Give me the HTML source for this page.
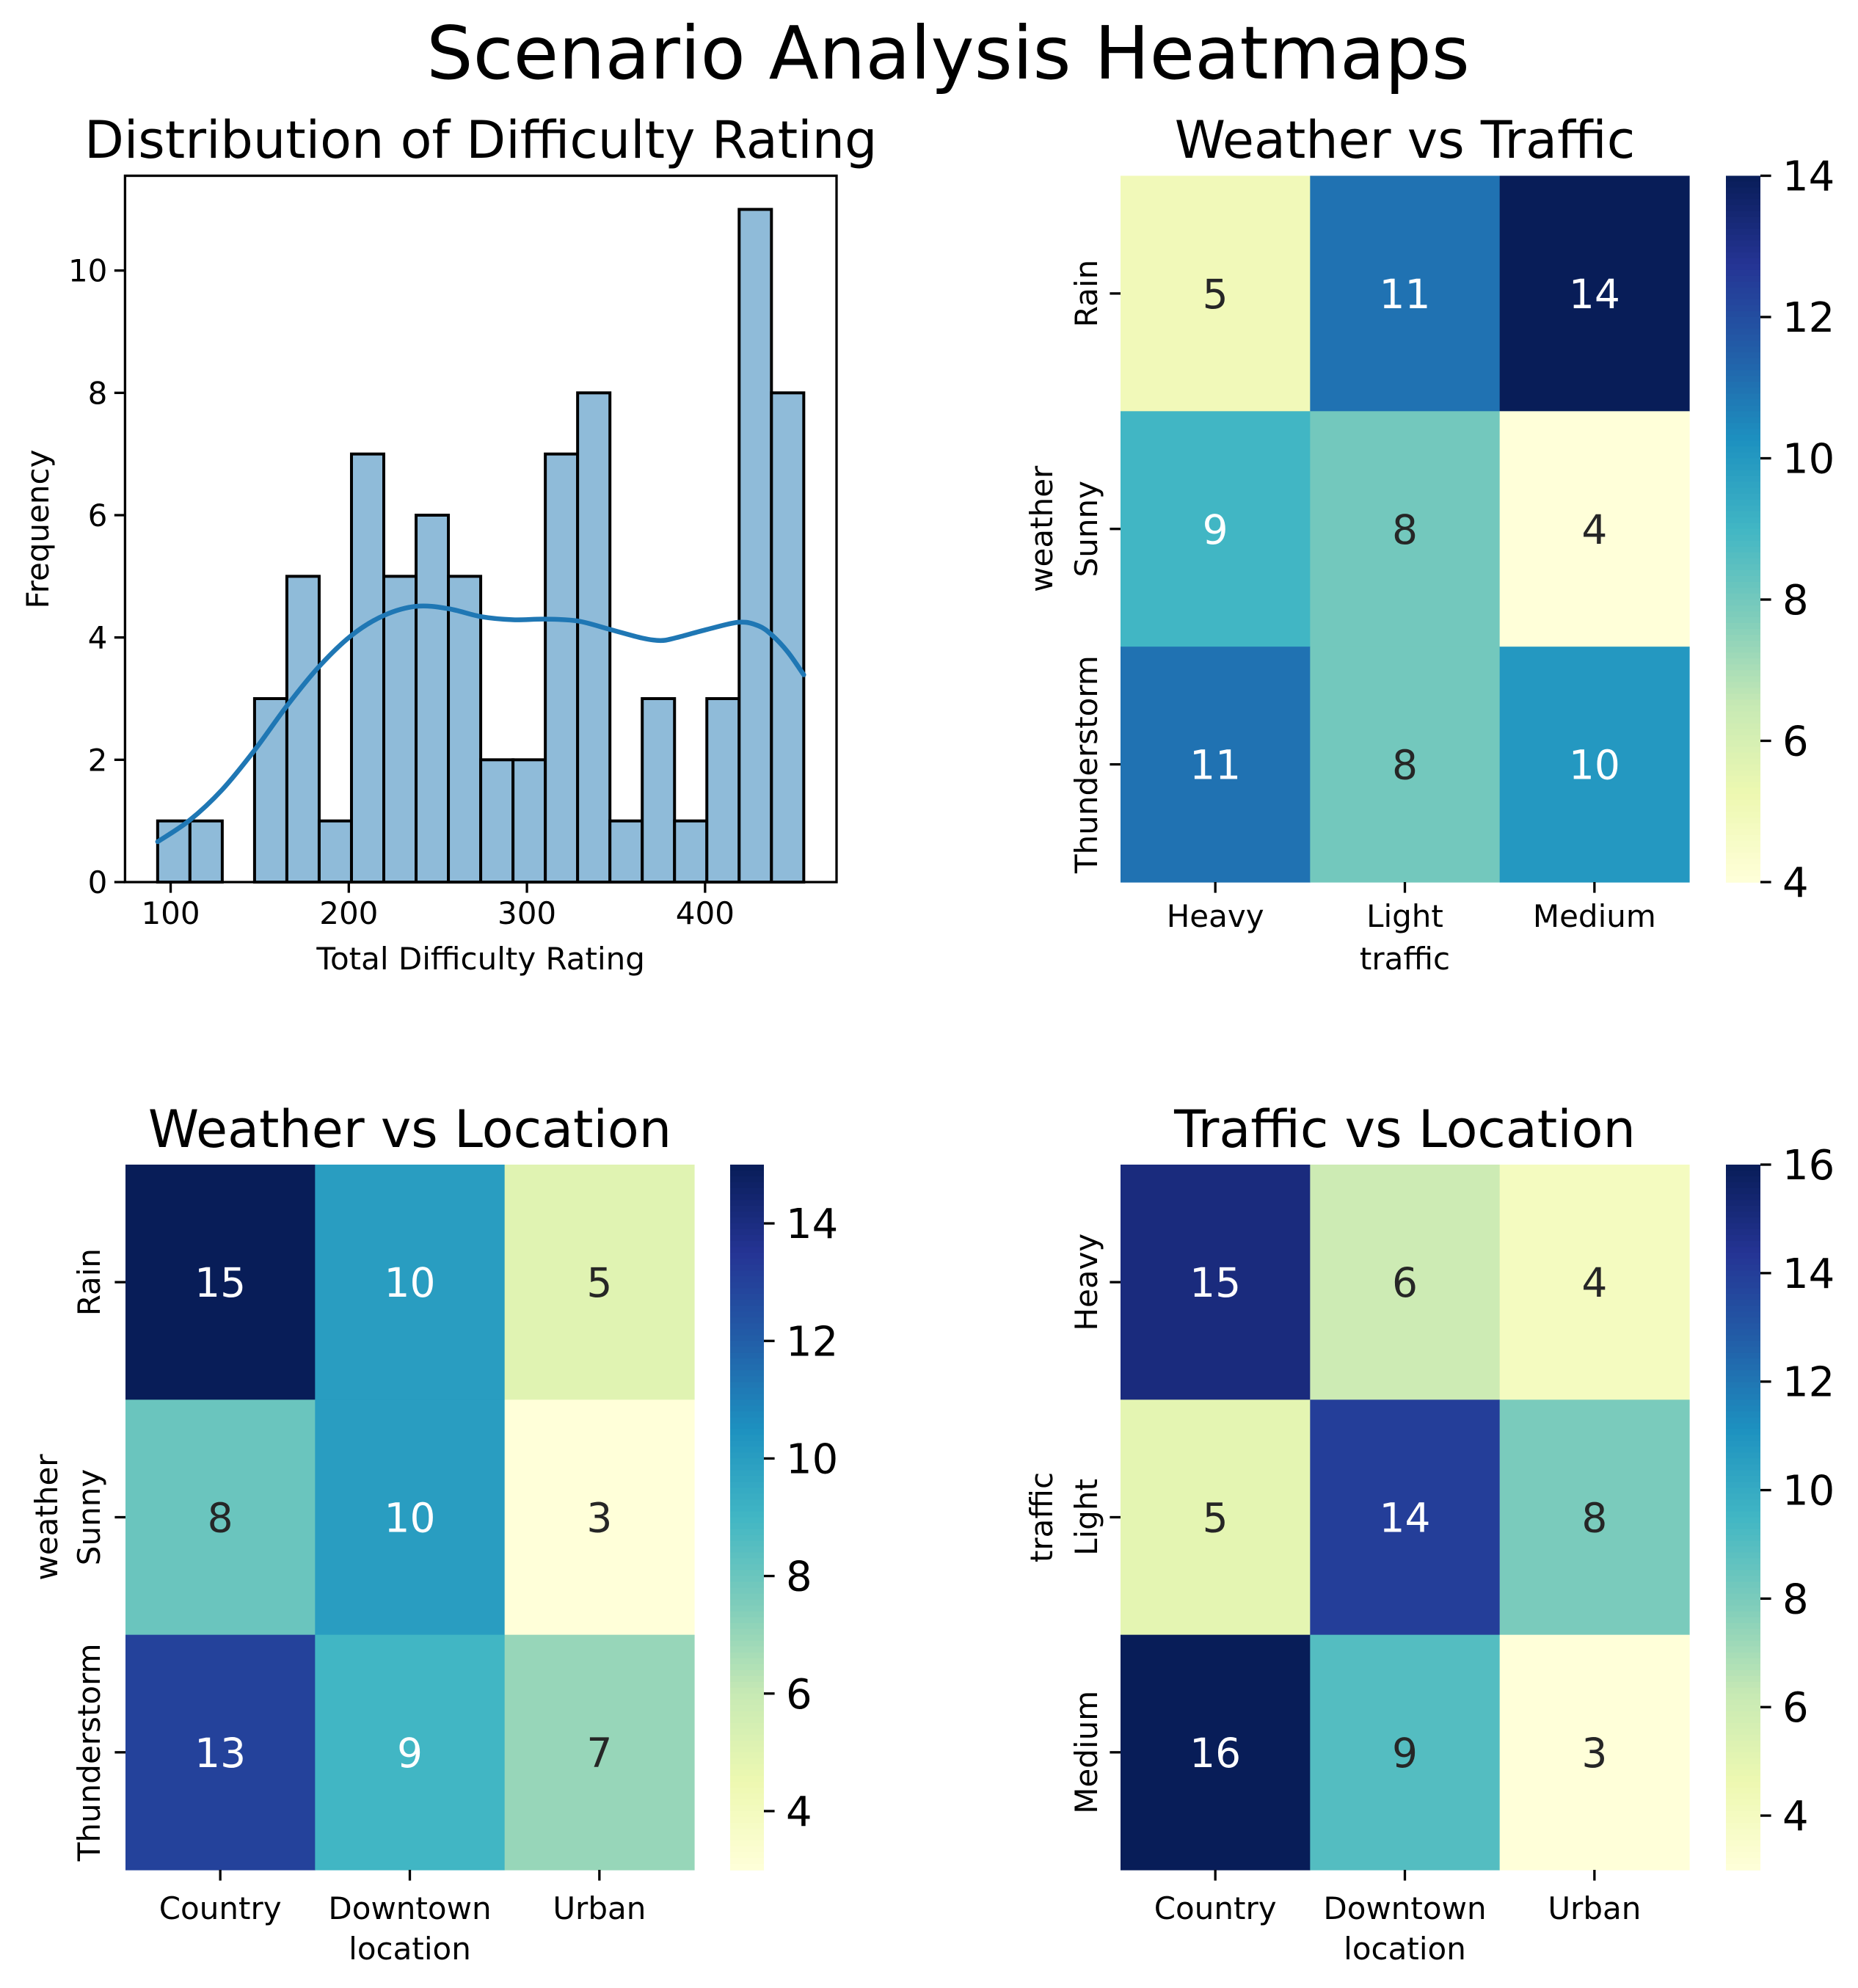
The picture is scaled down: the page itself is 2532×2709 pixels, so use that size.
<!DOCTYPE html>
<html><head><meta charset="utf-8"><style>
html,body{margin:0;padding:0;background:#fff}
svg{display:block}
text{font-family:"DejaVu Sans","Liberation Sans",sans-serif;fill:#000}
</style></head><body>
<svg id="fig" width="2532" height="2709" viewBox="0 0 2532 2709" xmlns="http://www.w3.org/2000/svg">
<rect width="2532" height="2709" fill="#fff"/>
<text x="1292" y="107" font-size="100" text-anchor="middle">Scenario Analysis Heatmaps</text>
</svg>
<script>
// ---- histogram data ----
const histBinStart = 92.7;
const histBinEnd = 455.4;
const histCounts = [1,1,0,3,5,1,7,5,6,5,2,2,7,8,1,3,1,3,11,8];
const kdeX = [92.7,110.6,128.9,147.2,165.5,183.5,201.8,219.7,238,256,274.3,292.2,310.2,328.5,346.8,364.7,375,383,401,419,430,437.5,446.5,455.4];
const kdeY = [0.66,1.01,1.51,2.16,2.89,3.53,4.04,4.36,4.51,4.47,4.34,4.29,4.30,4.27,4.13,3.99,3.95,3.99,4.13,4.25,4.19,4.04,3.76,3.39];
const histXTicks = [100,200,300,400];
const histYTicks = [0,2,4,6,8,10];
// ---- heatmap data ----
const weatherCats = ["Rain","Sunny","Thunderstorm"];
const trafficCats = ["Heavy","Light","Medium"];
const locationCats = ["Country","Downtown","Urban"];
const weatherTraffic = [[5,11,14],[9,8,4],[11,8,10]];
const weatherLocation = [[15,10,5],[8,10,3],[13,9,7]];
const trafficLocation = [[15,6,4],[5,14,8],[16,9,3]];
const cbTicksWT = [4,6,8,10,12,14];
const cbTicksWL = [4,6,8,10,12,14];
const cbTicksTL = [4,6,8,10,12,14,16];

const NS="http://www.w3.org/2000/svg";
const svg=document.getElementById('fig');
function el(tag,attrs,parent){const e=document.createElementNS(NS,tag);for(const k in attrs)e.setAttribute(k,attrs[k]);(parent||svg).appendChild(e);return e;}
function txt(s,attrs,parent){const e=el('text',attrs,parent);e.textContent=s;return e;}

// ---- Histogram ----
(function(){
  const L=170.4,R=1140,T=239.5,B=1202,xmin=74.4,xmax=473.8,ymax=11.55;
  const X=v=>L+(v-xmin)/(xmax-xmin)*(R-L);
  const Y=v=>B-v/ymax*(B-T);
  const g=el('g',{});
  
  
  const w=(histBinEnd-histBinStart)/histCounts.length;
  histCounts.forEach((c,i)=>{
    const x0=X(histBinStart+i*w),x1=X(histBinStart+(i+1)*w);
    const r=el('rect',{x:x0,y:Y(c),width:x1-x0,height:Y(0)-Y(c),fill:'#8fbbd9',stroke:'#000','stroke-width':4},g);
    
    
  });
  const P=kdeX.map((x,i)=>[X(x),Y(kdeY[i])]);
  let d='M'+P[0][0]+','+P[0][1];
  for(let i=0;i<P.length-1;i++){
    const p0=P[Math.max(0,i-1)],p1=P[i],p2=P[i+1],p3=P[Math.min(P.length-1,i+2)];
    const c1=[p1[0]+(p2[0]-p0[0])/6,p1[1]+(p2[1]-p0[1])/6];
    const c2=[p2[0]-(p3[0]-p1[0])/6,p2[1]-(p3[1]-p1[1])/6];
    d+=' C'+c1[0]+','+c1[1]+' '+c2[0]+','+c2[1]+' '+p2[0]+','+p2[1];
  }
  const kl=el('path',{d:d,fill:'none',stroke:'#1f77b4','stroke-width':6.5,'stroke-linejoin':'round','stroke-linecap':'round'},g);
  
  
  const fr=el('rect',{x:L,y:T,width:R-L,height:B-T,fill:'none',stroke:'#000','stroke-width':3.3},g);
  
  
  histXTicks.forEach(v=>{
    el('line',{x1:X(v),x2:X(v),y1:B,y2:B+14.6,stroke:'#000','stroke-width':3.3},g);
    const t=txt(String(v),{x:X(v),y:B+57,'font-size':42,'text-anchor':'middle'},g);
    
    
  });
  histYTicks.forEach(v=>{
    el('line',{x1:L,x2:L-14.6,y1:Y(v),y2:Y(v),stroke:'#000','stroke-width':3.3},g);
    const t=txt(String(v),{x:L-24,y:Y(v)+15,'font-size':42,'text-anchor':'end'},g);
    
    
  });
  const xl=txt('Total Difficulty Rating',{x:(L+R)/2,y:1321,'font-size':42,'text-anchor':'middle'},g);
  
  
  const yl=txt('Frequency',{x:0,y:0,'font-size':42,'text-anchor':'middle',transform:'translate(66,721) rotate(-90)'},g);
  
  
  const ti=txt('Distribution of Difficulty Rating',{x:(L+R)/2,y:215,'font-size':70,'text-anchor':'middle'},g);
  
  
})();

// ---- colormap YlGnBu ----
const ylgnbu=["#ffffd9","#edf8b1","#c7e9b4","#7fcdbb","#41b6c4","#1d91c0","#225ea8","#253494","#081d58"].map(h=>[1,3,5].map(i=>parseInt(h.substr(i,2),16)));
function cmap(t){t=Math.max(0,Math.min(1,t));const p=t*(ylgnbu.length-1);const i=Math.min(Math.floor(p),ylgnbu.length-2);const f=p-i;const a=ylgnbu[i],b=ylgnbu[i+1];return a.map((v,k)=>Math.round(v+(b[k]-v)*f));}
function lum(c){const l=c.map(v=>{v/=255;return v<=0.03928?v/12.92:Math.pow((v+0.055)/1.055,2.4)});return 0.2126*l[0]+0.7152*l[1]+0.0722*l[2];}

function heatmap(o){
  const {L,R,T,B,data,rows,cols,rowTitle,colTitle,title,cbL,cbR,ticks,name,titleY,xtickY,xtitleY,ylabX,rowLabX}=o;
  const vals=data.flat();const vmin=Math.min(...vals),vmax=Math.max(...vals);
  const g=el('g',{});
  
  
  const cw=(R-L)/cols.length,ch=(B-T)/rows.length;
  data.forEach((row,r)=>row.forEach((v,c)=>{
    const col=cmap((v-vmin)/(vmax-vmin));
    const rc=el('rect',{x:L+c*cw,y:T+r*ch,width:cw+0.6,height:ch+0.6,fill:'rgb('+col.join(',')+')'},g);
    
    
    const t=txt(String(v),{x:L+(c+0.5)*cw,y:T+(r+0.5)*ch+20,'font-size':55,'text-anchor':'middle',style:'fill:'+(lum(col)<0.408?'#ffffff':'#262626')},g);
    
    
  }));
  cols.forEach((s,i)=>{
    const x=L+(i+0.5)*cw;
    el('line',{x1:x,x2:x,y1:B,y2:B+14.6,stroke:'#000','stroke-width':3.3},g);
    const t=txt(s,{x:x,y:xtickY,'font-size':42,'text-anchor':'middle'},g);
    
    
  });
  rows.forEach((s,i)=>{
    const y=T+(i+0.5)*ch;
    el('line',{x1:L,x2:L-14.6,y1:y,y2:y,stroke:'#000','stroke-width':3.3},g);
    const t=txt(s,{x:0,y:0,'font-size':42,'text-anchor':'middle',transform:'translate('+(rowLabX+15)+','+y+') rotate(-90)'},g);
    
    
  });
  const xl=txt(colTitle,{x:(L+R)/2,y:xtitleY,'font-size':42,'text-anchor':'middle'},g);
  
  
  const yl=txt(rowTitle,{x:0,y:0,'font-size':42,'text-anchor':'middle',transform:'translate('+(ylabX+15)+','+((T+B)/2)+') rotate(-90)'},g);
  
  
  const ti=txt(title,{x:(L+R)/2,y:titleY,'font-size':70,'text-anchor':'middle'},g);
  
  
  // colorbar
  const cg=el('g',{},g);
  
  
  const n=120;
  for(let i=0;i<n;i++){
    const col=cmap(1-(i+0.5)/n);
    el('rect',{x:cbL,y:T+i*(B-T)/n,width:cbR-cbL,height:(B-T)/n+0.8,fill:'rgb('+col.join(',')+')'},cg);
  }
  const CY=v=>B-(v-vmin)/(vmax-vmin)*(B-T);
  ticks.forEach(v=>{
    el('line',{x1:cbR,x2:cbR+14.6,y1:CY(v),y2:CY(v),stroke:'#000','stroke-width':3.3},cg);
    const t=txt(String(v),{x:cbR+30,y:CY(v)+20,'font-size':56},cg);
    
    
  });
}
heatmap({name:'weather-traffic-heatmap',L:1527,R:2302,T:239.5,B:1202,data:weatherTraffic,rows:weatherCats,cols:trafficCats,rowTitle:'weather',colTitle:'traffic',title:'Weather vs Traffic',cbL:2352,cbR:2399,ticks:cbTicksWT,titleY:215,xtickY:1263,xtitleY:1321,ylabX:1419,rowLabX:1480});
heatmap({name:'weather-location-heatmap',L:171,R:946,T:1587,B:2548,data:weatherLocation,rows:weatherCats,cols:locationCats,rowTitle:'weather',colTitle:'location',title:'Weather vs Location',cbL:995,cbR:1041,ticks:cbTicksWL,titleY:1563,xtickY:2615,xtitleY:2670,ylabX:63,rowLabX:121});
heatmap({name:'traffic-location-heatmap',L:1527,R:2302,T:1587,B:2548,data:trafficLocation,rows:trafficCats,cols:locationCats,rowTitle:'traffic',colTitle:'location',title:'Traffic vs Location',cbL:2352,cbR:2399,ticks:cbTicksTL,titleY:1563,xtickY:2615,xtitleY:2670,ylabX:1419,rowLabX:1480});
</script>
</body></html>
